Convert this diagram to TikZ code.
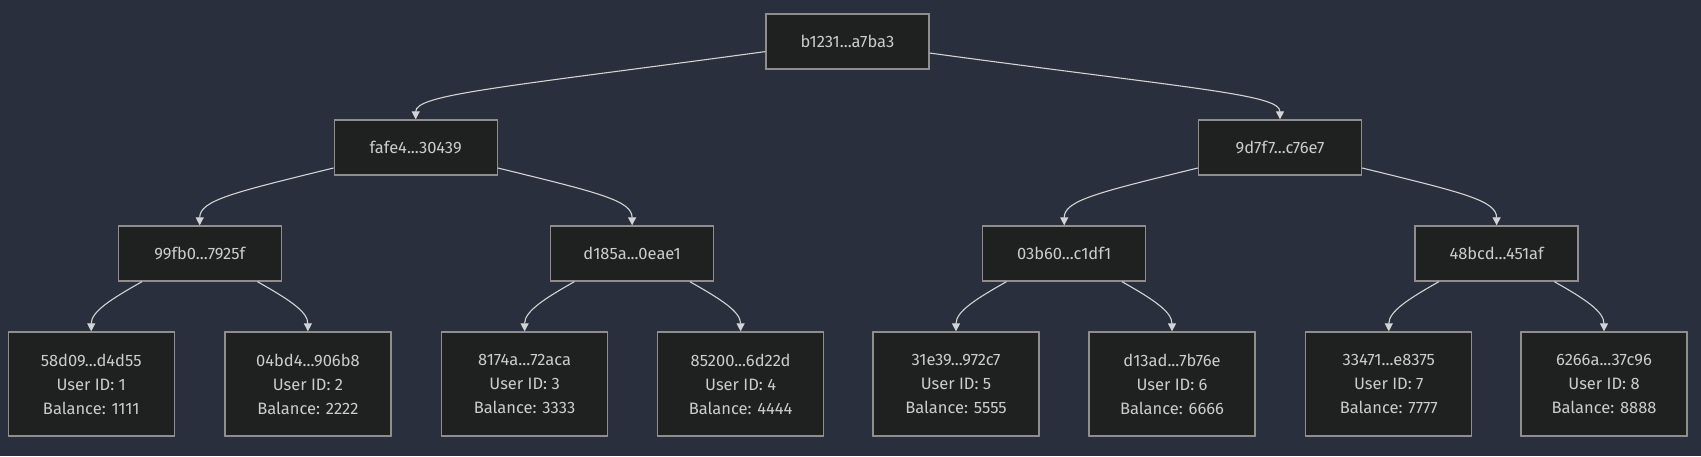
\documentclass[tikz,border=0pt]{standalone}
\usepackage{fontspec}
\setmainfont{Fira Sans}
\usetikzlibrary{arrows.meta}
\definecolor{bgblue}{HTML}{2A2F3D}
\definecolor{boxfill}{HTML}{1F2020}
\definecolor{boxline}{HTML}{8E8E8E}
\definecolor{boxtext}{HTML}{CCCCCC}
\definecolor{linkline}{HTML}{D3D3D3}
\tikzset{x=1pt, y=-1pt,
  every node/.style={font=\fontsize{16.5}{24}\selectfont, text=boxtext, align=center},
  hashbox/.style={draw=boxline, fill=boxfill, line width=1.3pt, minimum width=163pt, minimum height=55pt, inner sep=0pt},
  leafbox/.style={hashbox, minimum width=166pt, minimum height=104pt},
  link/.style={draw=linkline, line width=1.1pt, -{Triangle[length=8pt,width=8pt]}}}

\begin{document}
\begin{tikzpicture}
   \fill[bgblue] (0,0) rectangle (1701,456);
   \useasboundingbox (0,0) rectangle (1701,456);

    \node[hashbox] (r)  at (847.5,41.5) {b1231...a7ba3};
    \node[hashbox] (a)  at (415.7,147.5) {fafe4...30439};
    \node[hashbox] (b)  at (1280,147.5) {9d7f7...c76e7};
    \node[hashbox] (aa) at (199.7,253.5) {99fb0...7925f};
    \node[hashbox] (ab) at (632.1,253.5) {d185a...0eae1};
    \node[hashbox] (ba) at (1064.2,253.5) {03b60...c1df1};
    \node[hashbox] (bb) at (1496.6,253.5) {48bcd...451af};

    \node[leafbox] (u1) at (91.2,384)   {58d09...d4d55\\User ID: 1\\Balance: 1111};
    \node[leafbox] (u2) at (307.9,384)  {04bd4...906b8\\User ID: 2\\Balance: 2222};
    \node[leafbox] (u3) at (524.6,384)  {8174a...72aca\\User ID: 3\\Balance: 3333};
    \node[leafbox] (u4) at (740.6,384)  {85200...6d22d\\User ID: 4\\Balance: 4444};
    \node[leafbox] (u5) at (956,384)    {31e39...972c7\\User ID: 5\\Balance: 5555};
    \node[leafbox] (u6) at (1172,384)   {d13ad...7b76e\\User ID: 6\\Balance: 6666};
    \node[leafbox] (u7) at (1388.8,384) {33471...e8375\\User ID: 7\\Balance: 7777};
    \node[leafbox] (u8) at (1604,384)   {6266a...37c96\\User ID: 8\\Balance: 8888};

    % root to first level
    \draw[link] (r.187.3) .. controls +(-265,36) and +(0,-25) .. (a.north);
    \draw[link] (r.352.7) .. controls +(265,36) and +(0,-25) .. (b.north);
    % first level to second level
    \draw[link] (a.194) .. controls +(-100,24.5) and +(0,-25) .. (aa.north);
    \draw[link] (a.346) .. controls +(100,24.5) and +(0,-25) .. (ab.north);
    \draw[link] (b.194) .. controls +(-100,24.5) and +(0,-25) .. (ba.north);
    \draw[link] (b.346) .. controls +(100,24.5) and +(0,-25) .. (bb.north);
    % second level to leaves
    \draw[link] (aa.206) .. controls +(-30,17) and +(0,-20) .. (u1.north);
    \draw[link] (aa.334) .. controls +(30,17) and +(0,-20) .. (u2.north);
    \draw[link] (ab.206) .. controls +(-30,17) and +(0,-20) .. (u3.north);
    \draw[link] (ab.334) .. controls +(30,17) and +(0,-20) .. (u4.north);
    \draw[link] (ba.206) .. controls +(-30,17) and +(0,-20) .. (u5.north);
    \draw[link] (ba.334) .. controls +(30,17) and +(0,-20) .. (u6.north);
    \draw[link] (bb.206) .. controls +(-30,17) and +(0,-20) .. (u7.north);
    \draw[link] (bb.334) .. controls +(30,17) and +(0,-20) .. (u8.north);
\end{tikzpicture}
\end{document}
